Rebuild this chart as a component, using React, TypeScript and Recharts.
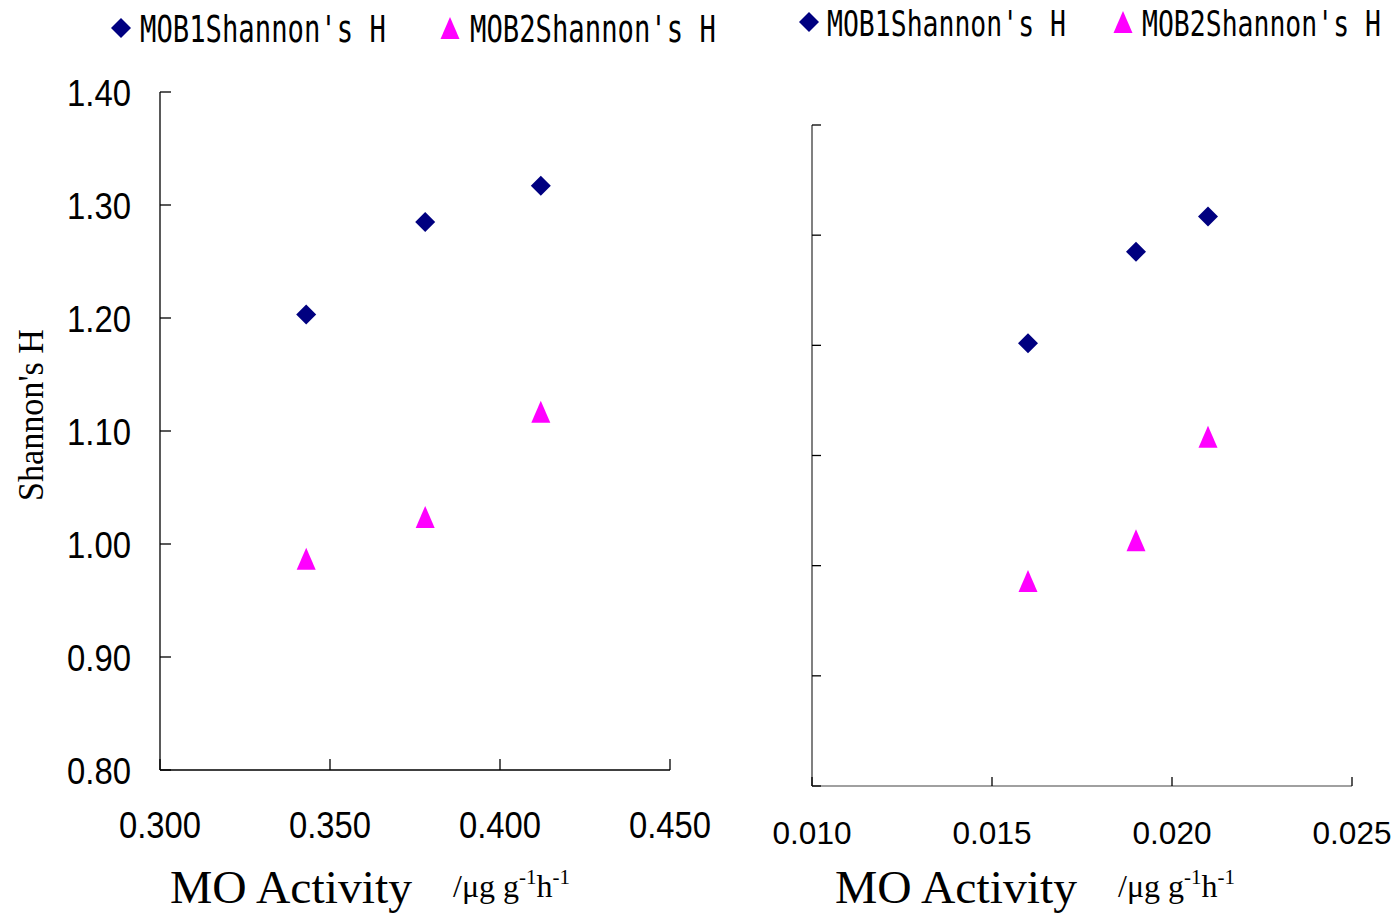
import React from 'react';
import { ScatterChart, Scatter, XAxis, YAxis } from 'recharts';

// ---- Data ----
const leftX = [0.343, 0.378, 0.412];
const leftMob1 = [1.203, 1.285, 1.317];
const leftMob2 = [0.987, 1.024, 1.117];

const rightX = [0.016, 0.019, 0.021];
const rightMob1 = [1.202, 1.285, 1.317];
const rightMob2 = [0.986, 1.023, 1.117];

const leftXTicks = [0.3, 0.35, 0.4, 0.45];
const rightXTicks = [0.01, 0.015, 0.02, 0.025];
const yTicks = [0.8, 0.9, 1.0, 1.1, 1.2, 1.3, 1.4];

const mob1Name = "MOB1Shannon's H";
const mob2Name = "MOB2Shannon's H";

const toPoints = (xs: number[], ys: number[]) => xs.map((x, i) => ({ x, y: ys[i] }));

const NAVY = '#000080';
const MAGENTA = '#FF00FF';

const Diamond = (props: any) => {
  const { cx, cy } = props;
  const r = 10;
  return <polygon points={`${cx},${cy - r} ${cx + r},${cy} ${cx},${cy + r} ${cx - r},${cy}`} fill={NAVY} />;
};

const Triangle = (props: any) => {
  const { cx, cy } = props;
  return <polygon points={`${cx},${cy - 11} ${cx + 9.5},${cy + 11} ${cx - 9.5},${cy + 11}`} fill={MAGENTA} />;
};

const makeYTick = (len: number, showLabel: boolean) => (props: any) => {
  const { x, y, payload } = props;
  return (
    <g>
      <line x1={x} y1={y} x2={x + len} y2={y} stroke="#000" strokeWidth={1.3} />
      {showLabel && (
        <text
          x={x - 29}
          y={y + 14}
          textAnchor="end"
          fontFamily="'Liberation Sans', Arial, sans-serif"
          fontSize={36}
          fill="#000"
          textLength={64}
          lengthAdjust="spacingAndGlyphs"
        >
          {Number(payload.value).toFixed(2)}
        </text>
      )}
    </g>
  );
};

const makeXTick = (len: number, dy: number, fs: number, tl: number) => (props: any) => {
  const { x, y, payload } = props;
  return (
    <g>
      <line x1={x} y1={y} x2={x} y2={y - len} stroke="#000" strokeWidth={1.3} />
      <text
        x={x}
        y={y + dy}
        textAnchor="middle"
        fontFamily="'Liberation Sans', Arial, sans-serif"
        fontSize={fs}
        fill="#000"
        textLength={tl}
        lengthAdjust="spacingAndGlyphs"
      >
        {Number(payload.value).toFixed(3)}
      </text>
    </g>
  );
};

const LegendItem = ({ kind, mx, my, tx, ty, fs, tl, label }: any) => {
  const natural = label.length * 0.602 * fs;
  const sx = tl / natural;
  return (
    <g>
      {kind === 'd' ? <Diamond cx={mx} cy={my} /> : <Triangle cx={mx} cy={my} />}
      <text
        transform={`translate(${tx},${ty}) scale(${sx},1)`}
        x={0}
        y={0}
        fontFamily="'DejaVu Sans Mono', monospace"
        fontSize={fs}
        fill="#000"
      >
        {label}
      </text>
    </g>
  );
};

const AxisTitle = ({ x, y, ux }: any) => (
  <g>
    <text x={x} y={y} fontFamily="'Liberation Serif', 'Times New Roman', serif" fontSize={47} fill="#000" textLength={242} lengthAdjust="spacingAndGlyphs">
      MO Activity
    </text>
    <text x={ux} y={y - 6} fontFamily="'Liberation Serif', 'Times New Roman', serif" fontSize={32} fill="#000">
      <tspan>/μg g</tspan>
      <tspan fontSize={21} dy={-13}>-1</tspan>
      <tspan dy={13}>h</tspan>
      <tspan fontSize={21} dy={-13}>-1</tspan>
    </text>
  </g>
);

export default function App() {
  return (
    <div style={{ position: 'absolute', left: 0, top: 0, width: 1399, height: 917, background: '#fff' }}>
      <div style={{ position: 'absolute', left: 0, top: 0 }}>
        <ScatterChart width={720} height={917} margin={{ top: 92, right: 50, bottom: 0, left: 0 }}>
          <XAxis
            type="number"
            dataKey="x"
            domain={[0.3, 0.45]}
            ticks={leftXTicks}
            height={147}
            axisLine={{ stroke: '#000', strokeWidth: 1.3 }}
            tickLine={false}
            tickSize={0}
            tickMargin={0}
            tick={makeXTick(11, 68, 36, 82)}
            interval={0}
            allowDataOverflow
          />
          <YAxis
            type="number"
            dataKey="y"
            domain={[0.8, 1.4]}
            ticks={yTicks}
            width={160}
            axisLine={{ stroke: '#000', strokeWidth: 1.3 }}
            tickLine={false}
            tickSize={0}
            tickMargin={0}
            tick={makeYTick(11, true)}
            interval={0}
            allowDataOverflow
          />
          <Scatter name={mob1Name} data={toPoints(leftX, leftMob1)} shape={Diamond} isAnimationActive={false} />
          <Scatter name={mob2Name} data={toPoints(leftX, leftMob2)} shape={Triangle} isAnimationActive={false} />
        </ScatterChart>
      </div>
      <div style={{ position: 'absolute', left: 720, top: 0 }}>
        <ScatterChart width={679} height={917} margin={{ top: 125, right: 47, bottom: 0, left: 0 }}>
          <XAxis
            type="number"
            dataKey="x"
            domain={[0.01, 0.025]}
            ticks={rightXTicks}
            height={131}
            axisLine={{ stroke: '#808080', strokeWidth: 1.5 }}
            tickLine={false}
            tickSize={0}
            tickMargin={0}
            tick={makeXTick(9, 58, 32, 79)}
            interval={0}
            allowDataOverflow
          />
          <YAxis
            type="number"
            dataKey="y"
            domain={[0.8, 1.4]}
            ticks={yTicks}
            width={92}
            axisLine={{ stroke: '#808080', strokeWidth: 2 }}
            tickLine={false}
            tickSize={0}
            tickMargin={0}
            tick={makeYTick(9, false)}
            interval={0}
            allowDataOverflow
          />
          <Scatter name={mob1Name} data={toPoints(rightX, rightMob1)} shape={Diamond} isAnimationActive={false} />
          <Scatter name={mob2Name} data={toPoints(rightX, rightMob2)} shape={Triangle} isAnimationActive={false} />
        </ScatterChart>
      </div>
      <svg width={1399} height={917} style={{ position: 'absolute', left: 0, top: 0, pointerEvents: 'none' }}>
        <LegendItem kind="d" mx={121} my={28} tx={140} ty={42} fs={37} tl={246} label={mob1Name} />
        <LegendItem kind="t" mx={450} my={28} tx={470} ty={42} fs={37} tl={246} label={mob2Name} />
        <LegendItem kind="d" mx={809} my={22} tx={827} ty={36} fs={35} tl={239} label={mob1Name} />
        <LegendItem kind="t" mx={1123} my={22} tx={1142} ty={36} fs={35} tl={239} label={mob2Name} />
        <text
          transform="translate(43,415) rotate(-90)"
          textAnchor="middle"
          fontFamily="'Liberation Serif', 'Times New Roman', serif"
          fontSize={36}
          fill="#000"
          textLength={172}
          lengthAdjust="spacingAndGlyphs"
        >
          Shannon's H
        </text>
        <AxisTitle x={170} y={903} ux={453} />
        <AxisTitle x={835} y={903} ux={1118} />
      </svg>
    </div>
  );
}
